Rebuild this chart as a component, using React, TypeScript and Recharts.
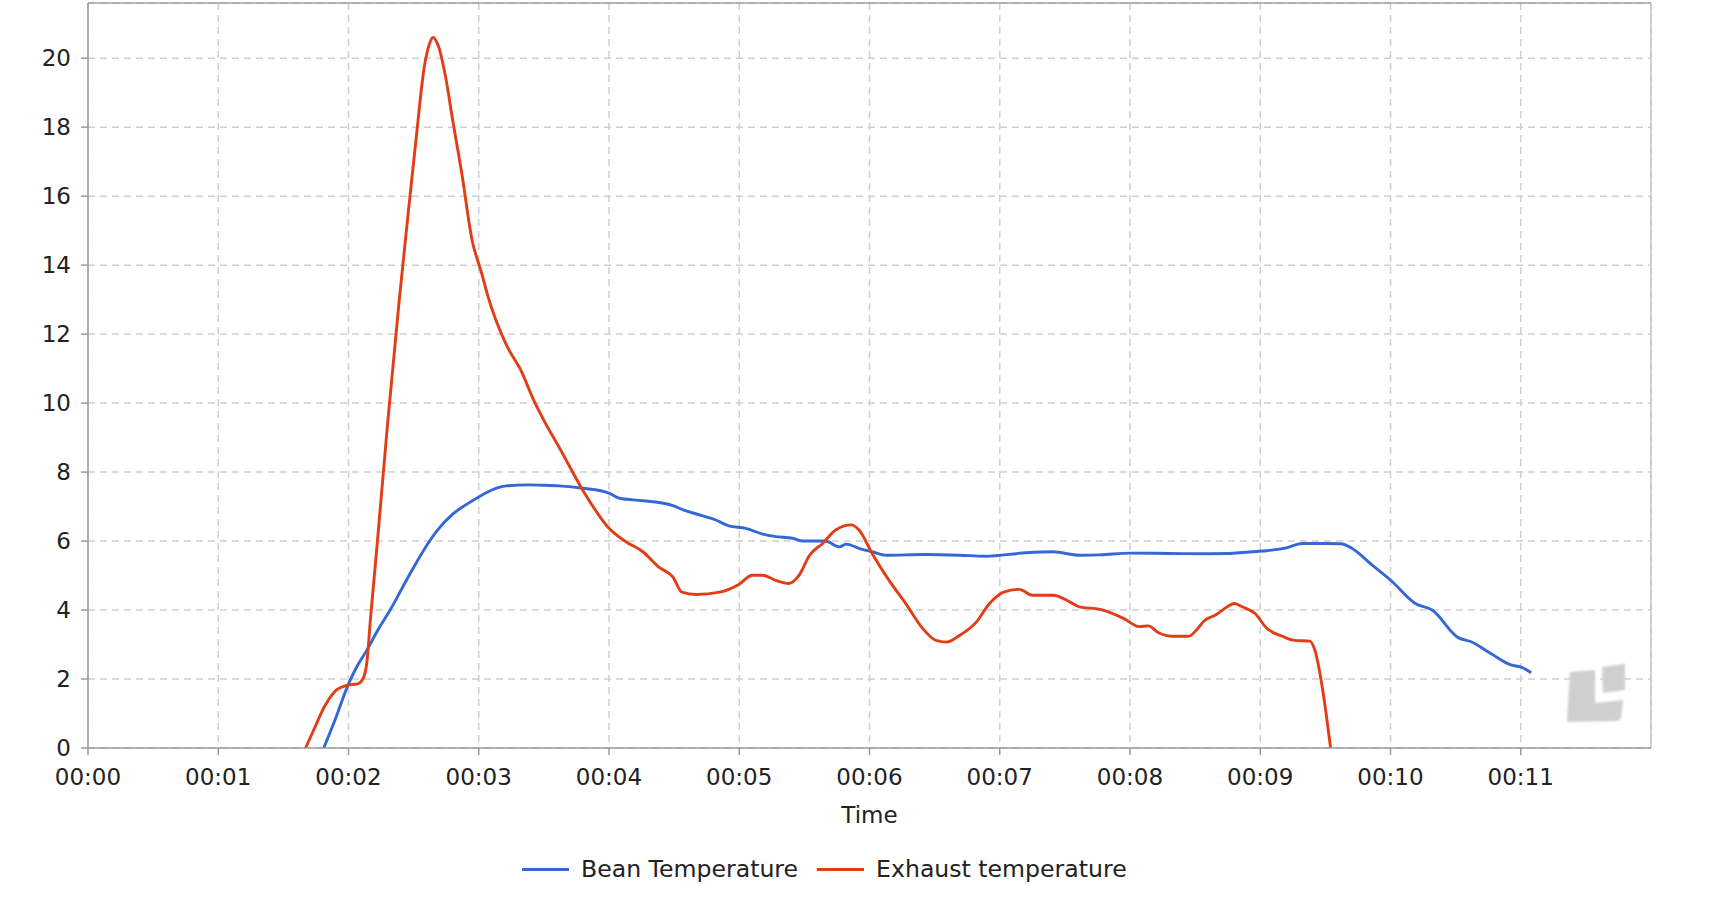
import React from 'react'
import {
  LineChart,
  Line,
  XAxis,
  YAxis,
  CartesianGrid,
  ReferenceLine,
} from 'recharts'

// Roast curves, time in minutes
const beanTime = [
  1.81, 1.9, 2.0, 2.07, 2.14, 2.23, 2.32, 2.45, 2.58, 2.68, 2.8, 2.9, 3.0, 3.1,
  3.21, 3.38, 3.5, 3.62, 3.8, 4.0, 4.08, 4.26, 4.49, 4.56, 4.72, 4.82, 4.92,
  5.05, 5.18, 5.28, 5.41, 5.49, 5.66, 5.77, 5.82, 5.92, 6.02, 6.13, 6.43, 6.69,
  6.89, 7.2, 7.41, 7.61, 7.77, 8.0, 8.3, 8.6, 9.02, 9.2, 9.32, 9.5, 9.62, 9.7,
  9.86, 10.0, 10.19, 10.32, 10.52, 10.62, 10.77, 10.93, 11.0, 11.08,
]
const beanTemp = [
  0, 0.85, 1.86, 2.4, 2.83, 3.45, 4.0, 4.9, 5.75, 6.3, 6.78, 7.05, 7.28, 7.48,
  7.6, 7.63, 7.62, 7.6, 7.53, 7.39, 7.24, 7.17, 7.03, 6.92, 6.73, 6.61, 6.44,
  6.37, 6.2, 6.13, 6.08, 6.0, 6.0, 5.83, 5.91, 5.79, 5.69, 5.59, 5.61, 5.59,
  5.56, 5.66, 5.69, 5.59, 5.6, 5.65, 5.64, 5.63, 5.71, 5.8, 5.93, 5.93, 5.92, 5.8,
  5.3, 4.87, 4.19, 4.0, 3.2, 3.08, 2.74, 2.4, 2.35, 2.18,
]

const exhaustTime = [
  1.67, 1.73, 1.82, 1.91, 1.99, 2.07, 2.11, 2.14, 2.17, 2.22, 2.3, 2.39, 2.45,
  2.52, 2.58, 2.62, 2.65, 2.69, 2.75, 2.8, 2.87, 2.95, 3.02, 3.07, 3.21, 3.33,
  3.42, 3.5, 3.62, 3.82, 4.0, 4.13, 4.26, 4.38, 4.49, 4.56, 4.67, 4.85, 5.0,
  5.1, 5.18, 5.28, 5.38, 5.46, 5.54, 5.64, 5.74, 5.86, 5.92, 6.02, 6.15, 6.28,
  6.41, 6.51, 6.59, 6.69, 6.82, 6.92, 7.03, 7.15, 7.25, 7.41, 7.54, 7.61, 7.77,
  7.95, 8.07, 8.14, 8.22, 8.32, 8.45, 8.51, 8.57, 8.66, 8.75, 8.8, 8.87, 8.96,
  9.05, 9.17, 9.26, 9.38, 9.42, 9.48, 9.54,
]
const exhaustTemp = [
  0, 0.5, 1.23, 1.69, 1.82, 1.86, 2.0, 2.45, 3.8, 5.9, 9.4, 13.0, 15.2, 17.7,
  19.7, 20.4, 20.6, 20.35, 19.36, 18.2, 16.66, 14.7, 13.8, 13.1, 11.7, 10.9,
  10.1, 9.5, 8.7, 7.34, 6.37, 5.98, 5.69, 5.25, 4.96, 4.52, 4.45, 4.52, 4.75,
  5.01, 5.01, 4.86, 4.77, 5.01, 5.59, 5.93, 6.32, 6.47, 6.32, 5.64, 4.86, 4.18,
  3.46, 3.12, 3.07, 3.26, 3.65, 4.18, 4.52, 4.6, 4.43, 4.43, 4.23, 4.09, 4.02,
  3.76, 3.52, 3.54, 3.34, 3.24, 3.24, 3.42, 3.69, 3.86, 4.1, 4.19, 4.08, 3.9,
  3.47, 3.24, 3.12, 3.1, 2.83, 1.67, 0,
]

const xTicks = [0, 1, 2, 3, 4, 5, 6, 7, 8, 9, 10, 11]
const yTicks = [0, 2, 4, 6, 8, 10, 12, 14, 16, 18, 20]

const BEAN = '#3468d6'
const EXHAUST = '#e23d16'
const FONT = '"DejaVu Sans", sans-serif'

const beanData = beanTime.map((t, i) => ({ t, v: beanTemp[i] }))
const exhaustData = exhaustTime.map((t, i) => ({ t, v: exhaustTemp[i] }))

const fmtTime = (m: number) => `00:${String(m).padStart(2, '0')}`

const Watermark = () => (
  <svg
    width={1710}
    height={898}
    style={{ position: 'absolute', left: 0, top: 0 }}
  >
    <defs>
      <filter id="wm-blur">
        <feGaussianBlur stdDeviation="1.2" />
      </filter>
    </defs>
    <g fill="#cfcfcf" filter="url(#wm-blur)">
      <path d="M1570 672 L1595 670 L1595 703 L1623 700 L1621 718 Q1620 721 1616 721 L1567 722 Z" />
      <path d="M1602 667 L1625 664 L1625 690 L1603 693 Z" />
    </g>
  </svg>
)

const LegendItem = ({ color, label }: { color: string; label: string }) => (
  <div style={{ display: 'flex', alignItems: 'center', marginRight: 19 }}>
    <span
      style={{
        display: 'inline-block',
        width: 47,
        height: 3,
        background: color,
        marginRight: 12,
      }}
    />
    <span>{label}</span>
  </div>
)

export default function App() {
  return (
    <div
      style={{
        position: 'absolute',
        left: 0,
        top: 0,
        width: 1710,
        height: 898,
        background: '#fff',
        fontFamily: FONT,
        color: '#222',
      }}
    >
      <Watermark />
      <div style={{ position: 'absolute', left: 0, top: 0 }}>
        <LineChart
          width={1710}
          height={898}
          margin={{ top: 3, right: 59, left: 28, bottom: 60 }}
        >
          <CartesianGrid
            stroke="#d0d0d0"
            strokeWidth={1.5}
            strokeDasharray="7 5"
          />
          <XAxis
            type="number"
            dataKey="t"
            domain={[0, 12]}
            ticks={xTicks}
            tickFormatter={fmtTime}
            allowDataOverflow
            height={90}
            stroke="#9a9a9a"
            strokeWidth={1.5}
            tickSize={7}
            tickMargin={14}
            tick={{ fill: '#222', fontSize: 23, fontFamily: FONT }}
            label={{
              value: 'Time',
              position: 'insideBottom',
              offset: 15,
              fill: '#222',
              fontSize: 23,
              fontFamily: FONT,
            }}
          />
          <YAxis
            type="number"
            domain={[0, 21.6]}
            ticks={yTicks}
            allowDataOverflow
            width={60}
            stroke="#9a9a9a"
            strokeWidth={1.5}
            tickSize={7}
            tickMargin={10}
            tick={{ fill: '#222', fontSize: 23, fontFamily: FONT }}
          />
          <ReferenceLine y={21.6} stroke="#a0a0a0" strokeWidth={1.5} />
          <ReferenceLine x={12} stroke="#c4c4c4" strokeWidth={1.5} />
          <Line
            data={beanData}
            dataKey="v"
            name="Bean Temperature"
            type="monotone"
            stroke={BEAN}
            strokeWidth={2.9}
            dot={false}
            isAnimationActive={false}
          />
          <Line
            data={exhaustData}
            dataKey="v"
            name="Exhaust temperature"
            type="monotone"
            stroke={EXHAUST}
            strokeWidth={2.9}
            dot={false}
            isAnimationActive={false}
          />
        </LineChart>
      </div>
      <div
        style={{
          position: 'absolute',
          left: 522,
          top: 855,
          height: 28,
          display: 'flex',
          alignItems: 'center',
          fontSize: 23.6,
          whiteSpace: 'nowrap',
        }}
      >
        <LegendItem color={BEAN} label="Bean Temperature" />
        <LegendItem color={EXHAUST} label="Exhaust temperature" />
      </div>
    </div>
  )
}
